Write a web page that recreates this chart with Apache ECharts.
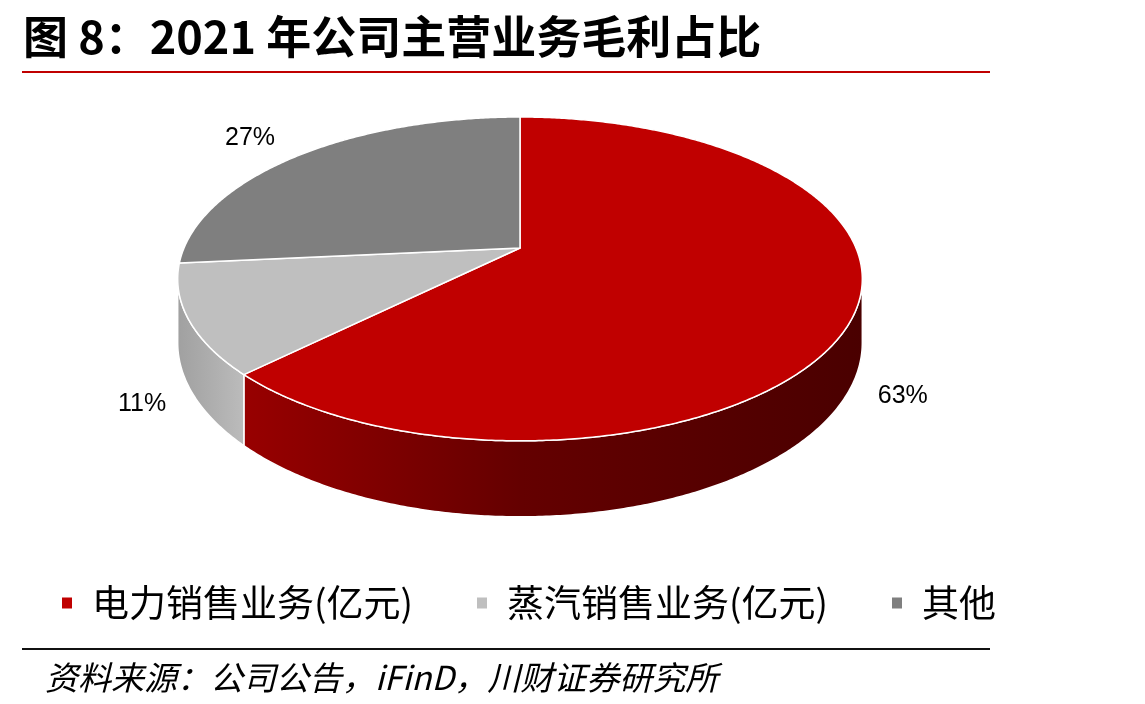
<!DOCTYPE html>
<html>
<head>
<meta charset="utf-8">
<script src="https://cdn.jsdelivr.net/npm/echarts@6/dist/echarts.min.js"></script>
<style>
html,body{margin:0;padding:0;background:#fff;}
#chart{width:1145px;height:704px;}
</style>
</head>
<body>
<div id="chart"></div>
<script>
// ---- data ----
const titleText = '图 8：2021 年公司主营业务毛利占比';
const sourceText = '资料来源：公司公告，iFinD，川财证券研究所';
const categories = ['电力销售业务(亿元)', '蒸汽销售业务(亿元)', '其他'];
const values = [62.6, 10.9, 26.5];
const topColors = ['#C00000', '#BFBFBF', '#7F7F7F'];
const sideColors = [
  ['#980000', '#640000', '#4A0000'],
  ['#A0A0A0', '#ACACAC', '#BCBCBC'],
  ['#6A6A6A', '#707070', '#787878']
];

// ---- layout of the pseudo-3D pie ----
const CX = 520, CY = 248, R = 336, RK = 156, P = 0.191, H = 61.5;
const LABEL_FONT = '25px "Liberation Sans", Arial, sans-serif';

function proj(deg, r, dz) {
  const t = deg * Math.PI / 180;
  const s = 1 / (1 + P * Math.cos(t));
  return [CX + r * R * Math.sin(t) * s, CY - r * RK * Math.cos(t) * s + dz * s];
}

const total = values.reduce((a, b) => a + b, 0);
const visA = Math.acos(-P) * 180 / Math.PI;
const visB = 360 - visA;

function renderItem(params, api) {
  const i = params.seriesIndex;
  const v = api.value(0);
  let start = 0;
  for (let j = 0; j < i; j++) start += values[j];
  const a1 = start / total * 360;
  const a2 = (start + v) / total * 360;
  const children = [];

  // top face
  const n = Math.max(2, Math.ceil((a2 - a1) * 2));
  const top = [[CX, CY]];
  for (let k = 0; k <= n; k++) top.push(proj(a1 + (a2 - a1) * k / n, 1, 0));
  children.push({
    type: 'polygon', shape: { points: top }, z2: 10,
    style: { fill: topColors[i], stroke: '#ffffff', lineWidth: 1.5, lineJoin: 'round' }
  });

  // outer side wall (front, visible part)
  const s1 = Math.max(a1, visA), s2 = Math.min(a2, visB);
  if (s2 > s1) {
    const m = Math.max(2, Math.ceil((s2 - s1) * 2));
    const pts = [];
    for (let k = 0; k <= m; k++) pts.push(proj(s1 + (s2 - s1) * k / m, 1, 0));
    for (let k = m; k >= 0; k--) pts.push(proj(s1 + (s2 - s1) * k / m, 1, H));
    const sc = sideColors[i];
    children.push({
      type: 'polygon', shape: { points: pts }, z2: 5,
      style: {
        fill: new echarts.graphic.LinearGradient(0, 0, 1, 0, [
          { offset: 0, color: sc[0] }, { offset: 0.45, color: sc[1] }, { offset: 1, color: sc[2] }
        ]),
        stroke: '#ffffff', lineWidth: 1.5
      }
    });
  }

  // label
  const mid = (a1 + a2) / 2;
  const t = mid * Math.PI / 180;
  const s = 1 / (1 + P * Math.cos(t));
  const rim = proj(mid, 1, 0);
  const d = 25;
  const drop = Math.cos(t) < 0 ? H * s + 7 : 0;
  const lx = rim[0] + Math.sin(t) * d * (1 + 0.5 * Math.max(0, Math.cos(t)));
  const ly = rim[1] - Math.cos(t) * d + drop;
  const pct = Math.round(v / total * 100) + '%';
  const al = Math.sin(t) >= 0 ? 'left' : 'right';
  children.push({
    type: 'text', x: lx, y: ly, z2: 20,
    style: { text: pct, fill: '#000', font: LABEL_FONT, align: al, verticalAlign: 'middle' }
  });
  return { type: 'group', children: children };
}

const chart = echarts.init(document.getElementById('chart'));
const legendLefts = [62, 477, 892];
chart.setOption({
  animation: false,
  backgroundColor: '#fff',
  title: {
    text: titleText, left: 18, top: 7,
    textStyle: { fontSize: 45, fontWeight: 'bold', color: '#000', lineHeight: 50,
      fontFamily: '"Noto Sans CJK SC", sans-serif' }
  },
  legend: categories.map((c, i) => ({
    data: [c], left: legendLefts[i], top: 581, padding: 0,
    icon: 'rect', itemWidth: 10, itemHeight: 11, selectedMode: false,
    textStyle: { fontSize: 37, lineHeight: 44, color: '#000', padding: [0, 0, 0, 15],
      fontFamily: '"Noto Sans CJK SC", sans-serif' }
  })),
  graphic: [
    { type: 'line', shape: { x1: 22, y1: 72, x2: 990, y2: 72 }, style: { stroke: '#C00000', lineWidth: 2 } },
    { type: 'line', shape: { x1: 22, y1: 649, x2: 990, y2: 649 }, style: { stroke: '#111', lineWidth: 2 } },
    { type: 'text', x: 45, y: 677, style: { text: sourceText, fill: '#000',
      font: 'italic 33px "Noto Sans CJK SC", sans-serif', verticalAlign: 'middle' } }
  ],
  series: categories.map((c, i) => ({
    type: 'custom', name: c, coordinateSystem: 'none', silent: true,
    itemStyle: { color: topColors[i] },
    renderItem: renderItem,
    data: [[values[i]]]
  }))
});
</script>
</body>
</html>
